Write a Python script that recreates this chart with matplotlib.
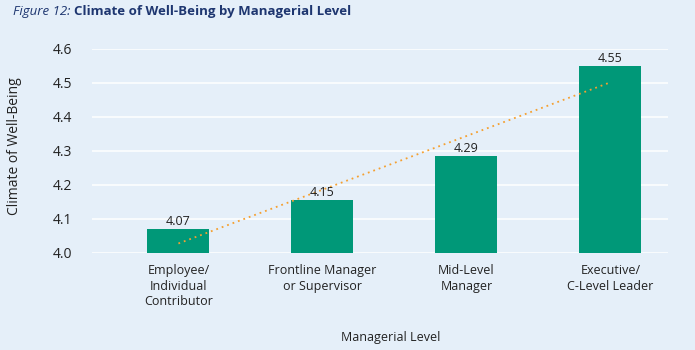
import matplotlib.pyplot as plt
import numpy as np

# data
categories = ["Employee/\nIndividual\nContributor", "Frontline Manager\nor Supervisor",
              "Mid-Level\nManager", "Executive/\nC-Level Leader"]
bar_heights = [4.07, 4.155, 4.285, 4.55]
value_labels = ["4.07", "4.15", "4.29", "4.55"]
y_ticks = [4.0, 4.1, 4.2, 4.3, 4.4, 4.5, 4.6]

BG = "#E5EFF9"
BAR = "#009878"
TREND = "#F5A030"
NAVY = "#1E3670"
TXT = "#222222"

plt.rcParams['font.family'] = ['Open Sans', 'DejaVu Sans']

fig = plt.figure(figsize=(6.95, 3.5), dpi=100, facecolor=BG)
ax = fig.add_axes([92 / 695, 1 - 253 / 350, (668 - 92) / 695, (253 - 49) / 350])
ax.set_facecolor(BG)

x = np.arange(len(categories))
ax.bar(x, bar_heights, width=0.43, color=BAR, zorder=2)

for xi, h, lab in zip(x, bar_heights, value_labels):
    ax.text(xi, h + 0.003, lab, ha='center', va='bottom', fontsize=9, color=TXT, zorder=4)

# linear trendline through the values
coef = np.polyfit(x + 1, [float(v) for v in value_labels], 1)
ax.plot(x, np.polyval(coef, x + 1), linestyle=(0, (1, 2.2)), color=TREND, linewidth=1.3, zorder=3)

ax.set_ylim(4.0, 4.6)
ax.set_xlim(-0.6, 3.4)
ax.set_yticks(y_ticks)
ax.set_yticklabels([f"{t:.1f}" for t in y_ticks])
ax.set_xticks(x)
ax.set_xticklabels(categories, linespacing=1.25)
ax.tick_params(axis='both', length=0, labelsize=9, labelcolor=TXT)
ax.tick_params(axis='y', labelsize=10, pad=14)
ax.tick_params(axis='x', pad=8)
ax.grid(axis='y', color='white', linewidth=1.1, zorder=1)
ax.set_axisbelow(True)
for s in ax.spines.values():
    s.set_visible(False)

fig.text(15 / 695, 1 - 146 / 350, "Climate of Well-Being", rotation=90, ha='center', va='center',
         fontsize=10, color=TXT)
fig.text(391 / 695, 1 - 337 / 350, "Managerial Level", ha='center', va='center',
         fontsize=9, color=TXT)

t1 = fig.text(13 / 695, 1 - 12 / 350, "Figure 12: ", style='italic', fontsize=9.5,
              color=NAVY, ha='left', va='center')
fig.canvas.draw()
bb = t1.get_window_extent()
fig.text(bb.x1 / 695, 1 - 12 / 350, "Climate of Well-Being by Managerial Level", fontweight='bold',
         fontsize=9.5, color=NAVY, ha='left', va='center')

fig.savefig("out.png", dpi=100, facecolor=BG)
